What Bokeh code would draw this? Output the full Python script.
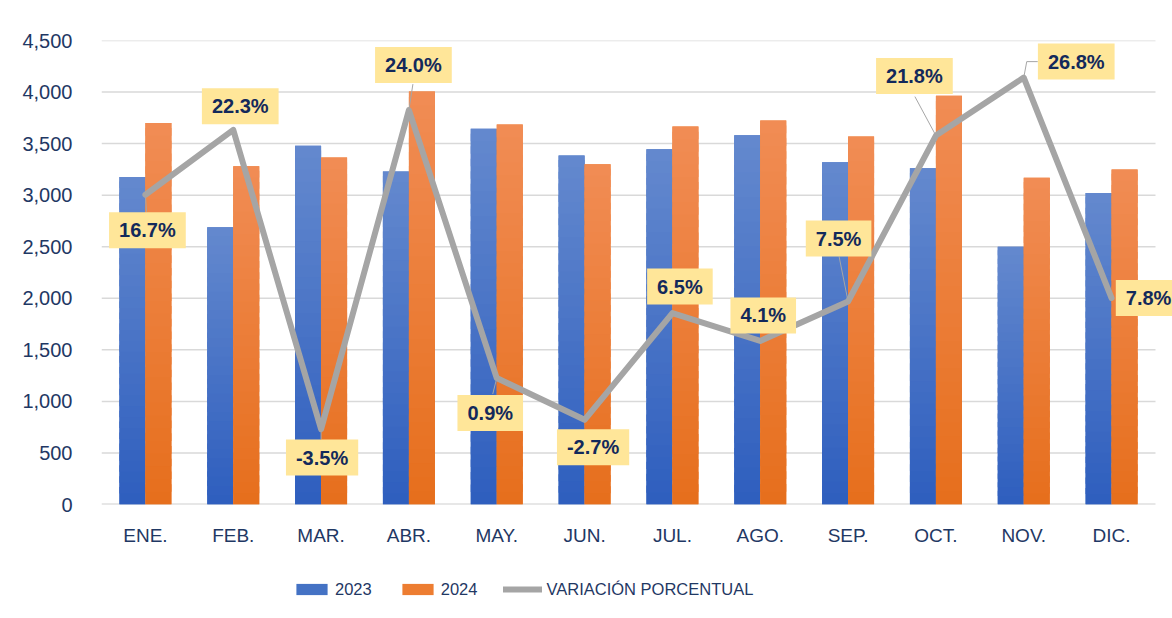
from bokeh.plotting import figure
from bokeh.layouts import column
from bokeh.models import (Range1d, FixedTicker, NumeralTickFormatter, Legend,
                          LegendItem, Label)
from bokeh.embed import file_html
from bokeh.resources import INLINE

# ---------------- data ----------------
months = ["ENE.", "FEB.", "MAR.", "ABR.", "MAY.", "JUN.",
          "JUL.", "AGO.", "SEP.", "OCT.", "NOV.", "DIC."]
v2023 = [3175, 2690, 3480, 3230, 3645, 3385, 3445, 3580, 3320, 3260, 2500, 3020]
v2024 = [3700, 3280, 3365, 4005, 3685, 3300, 3665, 3725, 3570, 3965, 3170, 3250]
pct = [16.7, 22.3, -3.5, 24.0, 0.9, -2.7, 6.5, 4.1, 7.5, 21.8, 26.8, 7.8]
y_ticks = [0, 500, 1000, 1500, 2000, 2500, 3000, 3500, 4000, 4500]
series_names = ["2023", "2024", "VARIACIÓN PORCENTUAL"]

# ---------------- styles ----------------
NAVY = "#1F3864"
LABEL_NAVY = "#13295B"
BLUE_BOT, BLUE_TOP, BLUE_MID = "#2E5EBE", "#6489CE", "#4472C4"
ORG_BOT, ORG_TOP, ORG_MID = "#E66E1C", "#F18D55", "#ED7D31"
GRAY = "#A5A5A5"
W, H, H2 = 1172, 560, 58
BL, BT, BB = 101, 40, 56
CAT_PX = 87.83          # pixels per category
EXTRA_R = 17            # frame continues past the last category (label room)
FRAME_H = H - BT - BB
PX_X = CAT_PX
PX_P = FRAME_H / 40.0
X_MIN, X_MAX = -0.5, 11.5

# label box offsets (px, y up)
lab_dx = [2, 7, 1, 4.5, -6.5, 8.5, 7.5, 3, -9.5, -21.5, 52.5, 37]
lab_dy = [-35.5, 23.5, -28.5, 45, -35, -27.5, 26.5, 25.5, 63, 59.5, 16, 0]
# leader lines (px, y up): (mid_dx, mid_dy, end_dx, end_dy) or None
leaders = [(1, -17, 1, -17), None, (0, -10, 0, -10), (4, 26, 4, 26),
           (-4, -16, -4, -16), None, None, None, (-9, 45, -9, 45),
           (-21, 39, -21, 39), (3, 16, 14, 16), None]

p = figure(width=W, height=H, x_range=Range1d(X_MIN, X_MAX + EXTRA_R / CAT_PX),
           y_range=Range1d(0, 4500),
           output_backend="svg", toolbar_location=None,
           min_border_left=BL, min_border_right=0, min_border_top=BT, min_border_bottom=BB)
p.extra_y_ranges = {"pct": Range1d(-10, 30)}
p.outline_line_color = None
p.background_fill_color = "white"
p.border_fill_color = "white"

p.xgrid.grid_line_color = None
p.ygrid.grid_line_color = None
# horizontal gridlines across the category area only
p.segment(x0=X_MIN, x1=X_MAX, y0=y_ticks[1:], y1=y_ticks[1:],
          line_color="#D9D9D9", line_width=1.5)
p.segment(x0=X_MIN, x1=X_MAX, y0=y_ticks[0], y1=y_ticks[0],
          line_color="#D0D0D0", line_width=2)

p.yaxis.ticker = FixedTicker(ticks=y_ticks)
p.yaxis.formatter = NumeralTickFormatter(format="0,0")
p.yaxis.axis_line_color = None
p.yaxis.major_tick_line_color = None
p.yaxis.minor_tick_line_color = None
p.yaxis.major_label_standoff = 23
p.yaxis.major_label_text_font = "Liberation Sans"
p.yaxis.major_label_text_font_size = "20px"
p.yaxis.major_label_text_color = NAVY

p.xaxis.ticker = FixedTicker(ticks=list(range(12)))
p.xaxis.major_label_overrides = {i: m for i, m in enumerate(months)}
p.xaxis.axis_line_color = None
p.xaxis.major_tick_line_color = None
p.xaxis.minor_tick_line_color = None
p.xaxis.major_label_standoff = 14
p.xaxis.major_label_text_font = "Liberation Sans"
p.xaxis.major_label_text_font_size = "19px"
p.xaxis.major_label_text_color = NAVY


def hex2rgb(h):
    h = h.lstrip("#")
    return tuple(int(h[i:i + 2], 16) for i in (0, 2, 4))


def interp(c1, c2, t):
    a, b = hex2rgb(c1), hex2rgb(c2)
    return "#%02x%02x%02x" % tuple(int(round(a[i] + (b[i] - a[i]) * t)) for i in range(3))


BAR_W = 0.296
N = 30
series = [
    (v2023, -BAR_W / 2, BLUE_BOT, BLUE_TOP, BLUE_MID),
    (v2024, BAR_W / 2, ORG_BOT, ORG_TOP, ORG_MID),
]
for vals, off, cbot, ctop, cmid in series:
    xs = [i + off for i in range(12)]
    p.vbar(x=xs, top=vals, width=BAR_W, fill_color=cmid, line_color=None)
    sx, sb, st, sc = [], [], [], []
    for i, v in enumerate(vals):
        for k in range(N):
            sx.append(i + off)
            sb.append(v * k / N)
            st.append(min(v, v * (k + 1.6) / N))
            sc.append(interp(cbot, ctop, (k + 0.5) / N))
    p.vbar(x=sx, bottom=sb, top=st, width=BAR_W, fill_color=sc, line_color=None)

# leader lines
lx, ly = [], []
for i, ld in enumerate(leaders):
    if ld is None:
        continue
    mdx, mdy, edx, edy = ld
    lx.append([i, i + mdx / PX_X, i + edx / PX_X])
    ly.append([pct[i], pct[i] + mdy / PX_P, pct[i] + edy / PX_P])
p.multi_line(xs=lx, ys=ly, y_range_name="pct", line_color="#A6A6A6", line_width=1)

p.line(x=list(range(12)), y=pct, y_range_name="pct", line_color=GRAY,
       line_width=6, line_join="round", line_cap="round")

for i, v in enumerate(pct):
    p.add_layout(Label(x=i, y=v, y_range_name="pct", x_offset=lab_dx[i], y_offset=lab_dy[i],
                       text=f"{v:.1f}%", text_align="center", text_baseline="middle",
                       text_font="Liberation Sans", text_font_style="bold",
                       text_font_size="20px", text_color=LABEL_NAVY,
                       background_fill_color="#FFE699",
                       padding=dict(left=10, right=10, top=7, bottom=7)))

# ---------------- legend strip ----------------
# legend proxies: the same series, hidden (only their legend swatches are shown)
p2 = figure(width=W, height=H2, x_range=Range1d(20, 40), y_range=Range1d(5000, 9000),
            output_backend="svg", toolbar_location=None,
            x_axis_type=None, y_axis_type=None,
            min_border_left=0, min_border_right=0, min_border_top=0, min_border_bottom=0)
p2.outline_line_color = None
p2.xgrid.grid_line_color = None
p2.ygrid.grid_line_color = None
idx = list(range(12))
r1 = p2.vbar(x=idx, top=v2023, width=BAR_W, fill_color=BLUE_MID, line_color=None, visible=False)
r2 = p2.vbar(x=idx, top=v2024, width=BAR_W, fill_color=ORG_MID, line_color=None, visible=False)
r3 = p2.line(x=idx, y=pct, line_color=GRAY, line_width=6, line_cap="round", visible=False)
legend = Legend(items=[LegendItem(label=series_names[0], renderers=[r1]),
                       LegendItem(label=series_names[1], renderers=[r2]),
                       LegendItem(label=series_names[2], renderers=[r3])],
                location=(191, 19), orientation="horizontal",
                glyph_width=39, glyph_height=14, label_standoff=4, spacing=26,
                padding=0, margin=0, border_line_color=None, background_fill_alpha=0,
                label_text_font="Liberation Sans", label_text_font_size="16.5px",
                label_text_color=NAVY, label_height=20)
p2.add_layout(legend)

open("out.html", "w").write(file_html(column(p, p2, spacing=0), INLINE))
